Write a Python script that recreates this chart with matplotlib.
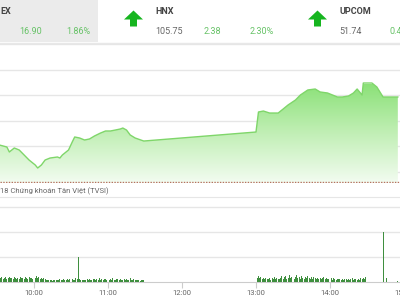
import numpy as np
import matplotlib
matplotlib.use("Agg")
import matplotlib.pyplot as plt
from matplotlib.colors import LinearSegmentedColormap
from matplotlib.patches import Polygon, Rectangle

plt.rcParams['font.family'] = ['Roboto', 'DejaVu Sans']

# Intraday index (time "HH:MM", value)
price_times = ["9:32", "9:38", "9:40", "9:44", "9:48", "9:52", "9:56", "10:01", "10:03",
               "10:06", "10:09", "10:13", "10:19", "10:21", "10:23", "10:28", "10:31",
               "10:33", "10:37", "10:41", "10:45", "10:49", "10:54", "10:58", "11:02",
               "11:06", "11:10", "11:12", "11:15", "11:18", "11:22", "11:29",
               "13:00", "13:02", "13:06", "13:11", "13:18", "13:22", "13:26", "13:32",
               "13:36", "13:42", "13:48", "13:52", "13:58", "14:02", "14:06", "14:10",
               "14:15", "14:19", "14:22", "14:26", "14:27", "14:34", "14:38", "14:43",
               "14:55"]
price_values = [915.27, 914.88, 913.91, 914.69, 914.30, 913.32, 912.34, 911.37, 910.78,
                911.37, 912.34, 912.73, 912.93, 912.73, 913.32, 914.30, 915.86,
                916.84, 916.64, 916.25, 916.45, 917.03, 917.62, 918.01, 918.01,
                918.20, 918.40, 918.59, 918.20, 917.23, 916.64, 916.05,
                917.81, 921.72, 921.91, 921.52, 921.52, 922.30, 923.09, 924.06,
                925.04, 926.02, 926.21, 925.63, 925.43, 925.04, 924.65, 924.65,
                924.84, 925.43, 926.21, 925.04, 927.38, 927.38, 926.60, 924.65,
                924.65]
prev_close = 908.05

# Volume per minute (thousand shares)
vol_am_start = "9:32"
vol_am = [180, 150, 210, 130, 170, 190, 140, 160, 200, 150,
          170, 130, 190, 160, 140, 180, 120, 200, 150, 170,
          140, 190, 160, 130, 210, 150, 170, 140, 180, 160,
          230, 150, 190, 140, 170, 120, 160, 110, 90, 100,
          80, 70, 90, 60, 80, 100, 70, 90, 80, 110,
          90, 70, 130, 80, 100, 140, 90, 110, 80, 120,
          100, 90, 150, 110, 1000, 130, 90, 80, 100, 70,
          90, 110, 80, 130, 100, 90, 140, 110, 80, 120,
          100, 150, 90, 120, 80, 110, 130, 90, 100, 80,
          120, 90, 160, 100, 80, 110, 140, 90, 120, 100,
          80, 110, 90, 130, 70, 100, 150, 90, 80, 110,
          90, 70, 100, 80, 60, 90, 70, 100]
vol_pm_start = "13:00"
vol_pm = [400, 150, 260, 180, 220, 130, 170, 110, 160, 140,
          120, 180, 100, 150, 130, 210, 110, 170, 140, 120,
          160, 230, 140, 190, 250, 120, 180, 270, 150, 200,
          240, 130, 190, 280, 160, 210, 140, 250, 180, 130,
          200, 150, 240, 170, 130, 190, 120, 210, 160, 140,
          180, 110, 170, 130, 150, 200, 120, 160, 110, 140,
          130, 170, 100, 150, 120, 90, 140, 110, 130, 100,
          120, 90, 140, 110, 100, 130, 80, 120, 150, 100,
          110, 140, 90, 130, 100, 150, 120, 180, 110, 210]
vol_close_times = ["14:43", "14:46", "14:55"]
vol_close = [2000, 150, 40]

tick_hours = [10, 11, 12, 13, 14, 15]


def to_hours(s):
    h, m = s.split(":")
    return int(h) + int(m) / 60


t_price = np.array([to_hours(s) for s in price_times])
v_price = np.array(price_values)
t_vol = np.concatenate([
    to_hours(vol_am_start) + np.arange(len(vol_am)) / 60,
    to_hours(vol_pm_start) + np.arange(len(vol_pm)) / 60,
    [to_hours(s) for s in vol_close_times]])
v_vol = np.array(vol_am + vol_pm + vol_close)

W, H = 400, 300
fig = plt.figure(figsize=(4, 3), dpi=100)
fig.patch.set_facecolor('white')

# x: 10:00 at px 34, 74 px per hour
x0 = 10 - 34 / 74
x1 = 10 + (410 - 34) / 74


def fig_rect(top, bottom):
    return [0, (H - bottom) / H, 410 / W, (bottom - top) / H]


# ---- price panel
ax = fig.add_axes(fig_rect(43, 183))
ax.set_xlim(x0, x1)
ymin = 910 - 11 / 5.12
ymax = 910 + (172 - 43) / 5.12
ax.set_ylim(ymin, ymax)
ax.set_yticks([910, 915, 920, 925, 930, 935])
ax.grid(axis='y', color='#e6e6e6', lw=1)
ax.set_xticks([])
ax.tick_params(left=False, labelleft=False)
for sp in ax.spines.values():
    sp.set_visible(False)

poly = ax.fill_between(t_price, v_price, ymin, color='none', lw=0)
cmap = LinearSegmentedColormap.from_list('g', ['#f3fcf1', '#c2efb6', '#8be178'])
grad = np.linspace(0, 1, 256).reshape(-1, 1)
im = ax.imshow(grad, extent=[x0, x1, ymin, 927], origin='lower', aspect='auto',
               cmap=cmap, zorder=2)
im.set_clip_path(poly.get_paths()[0], transform=ax.transData)
ax.set_ylim(ymin, ymax)
ax.plot(t_price, v_price, color='#7fd66a', lw=1, zorder=3)
ax.axhline(prev_close, color='#b5715f', lw=1, ls=(0, (1, 1)), zorder=4)

# ---- volume panel
axv = fig.add_axes(fig_rect(197, 282))
axv.set_xlim(x0, x1)
axv.set_ylim(0, 3400)
axv.bar(t_vol, v_vol, width=0.8 / 60, color='#3f8f3f', lw=0, zorder=3)
axv.set_yticks([1000, 2000, 3000])
axv.grid(axis='y', color='#e6e6e6', lw=1)
axv.set_xticks(tick_hours)
axv.set_xticklabels([f"{h}:00" for h in tick_hours])
axv.tick_params(axis='x', length=4, color='#cccccc', labelcolor='#666666',
                labelsize=5.5, pad=2)
axv.tick_params(left=False, labelleft=False)
for k in ['left', 'right']:
    axv.spines[k].set_visible(False)
axv.spines['top'].set_color('#e6e6e6')
axv.spines['bottom'].set_color('#cccccc')

# ---- header and captions (pixel coords)
ov = fig.add_axes([0, 0, 1, 1], zorder=10)
ov.set_xlim(0, W)
ov.set_ylim(H, 0)
ov.axis('off')
ov.patch.set_alpha(0)
ov.add_patch(Rectangle((0, 0), 98, 42, color='#ebebeb', lw=0))
ov.plot([0, W], [42.5, 42.5], color='#e8e8e8', lw=1)

green_txt = '#66c266'
ov.text(0, 12, "EX", fontsize=6.5, fontweight='bold', color='#444444', va='center')
ov.text(19, 32, "16.90", fontsize=6.5, color=green_txt, va='center')
ov.text(66, 32, "1.86%", fontsize=6.5, color=green_txt, va='center')
ov.text(155, 12, "HNX", fontsize=6.5, fontweight='bold', color='#444444', va='center')
ov.text(155, 32, "105.75", fontsize=6.5, color='#666666', va='center')
ov.text(204, 32, "2.38", fontsize=6.5, color=green_txt, va='center')
ov.text(250, 32, "2.30%", fontsize=6.5, color=green_txt, va='center')
ov.text(339, 12, "UPCOM", fontsize=6.5, fontweight='bold', color='#444444', va='center')
ov.text(339, 32, "51.74", fontsize=6.5, color='#666666', va='center')
ov.text(389, 32, "0.43%", fontsize=6.5, color=green_txt, va='center')

for cx in [133.5, 317.5]:
    arrow = [(cx, 10.5), (cx + 9.5, 19.5), (cx + 3.5, 19.5), (cx + 3.5, 26.5),
             (cx - 3.5, 26.5), (cx - 3.5, 19.5), (cx - 9.5, 19.5)]
    ov.add_patch(Polygon(arrow, closed=True, color='#16b51f', lw=0))

ov.text(-0.5, 191, "18 Chứng khoán Tân Việt (TVSI)", fontsize=5.5, color='#666666',
        va='center')

fig.savefig("out.png", dpi=100)
